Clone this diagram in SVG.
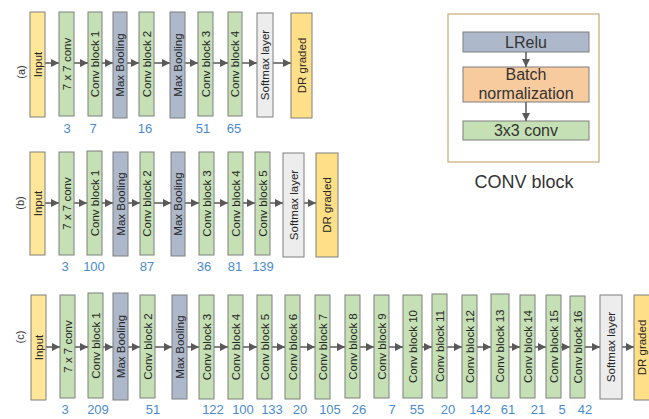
<svg xmlns="http://www.w3.org/2000/svg" width="649" height="419" viewBox="0 0 649 419">
<style>
.b{stroke:#7f7f7f;stroke-width:1}
.inp{fill:#ffe699}
.dr{fill:#ffdf88}
.cv{fill:#c5e0b4}
.mp{fill:#adb9ca}
.sm{fill:#ededed}
.t{font-family:"Liberation Sans",Arial,sans-serif;font-size:11.5px;fill:#262626;text-anchor:middle;dominant-baseline:central}
.n{font-family:"Liberation Sans",Arial,sans-serif;font-size:13px;fill:#4a8bd0;text-anchor:middle}
.r{font-family:"Liberation Sans",Arial,sans-serif;font-size:11px;fill:#333;text-anchor:middle;dominant-baseline:central}
.k{font-family:"Liberation Sans",Arial,sans-serif;font-size:16px;fill:#333;text-anchor:middle;dominant-baseline:central}
.c line{stroke:#595959;stroke-width:1.5;marker-end:url(#ah)}
</style>
<defs>
<marker id="ah" viewBox="0 0 8 8" refX="8" refY="4" markerWidth="8" markerHeight="8" markerUnits="userSpaceOnUse" orient="auto"><path d="M0,0 L8,4 L0,8 z" fill="#595959"/></marker>
</defs>
<rect width="649" height="419" fill="#fff"/>

<!-- CONV block legend -->
<g id="conv-block">
<rect x="448" y="14" width="151" height="148" fill="#fff" stroke="#c9a67e" stroke-width="1.2"/>
<g id="lrelu"><rect class="b mp" x="463" y="32" width="126" height="20"/><text class="k" x="526" y="42">LRelu</text></g>
<g id="batchnorm"><rect class="b" fill="#f8cb9f" x="463" y="67" width="126" height="35"/><text class="k" x="526" y="74">Batch</text><text class="k" x="526" y="93">normalization</text></g>
<g id="conv3"><rect class="b cv" x="463" y="121" width="126" height="19"/><text class="k" x="526" y="130.5">3x3 conv</text></g>
<text class="k" style="font-size:18px" x="524" y="182">CONV block</text>
</g>

<!-- connectors -->
<g id="connectors" class="c">
<!-- row a -->
<line x1="45" y1="63" x2="59" y2="63"/>
<line x1="74" y1="63" x2="88" y2="63"/>
<line x1="102" y1="63" x2="113" y2="63"/>
<line x1="127" y1="63" x2="139" y2="63"/>
<line x1="154" y1="63" x2="170" y2="63"/>
<line x1="185" y1="63" x2="198" y2="63"/>
<line x1="213" y1="63" x2="228" y2="63"/>
<line x1="242" y1="63" x2="257" y2="63"/>
<line x1="273" y1="63" x2="291" y2="63"/>
<!-- row b -->
<line x1="45" y1="203" x2="59" y2="203"/>
<line x1="74" y1="203" x2="87" y2="203"/>
<line x1="102" y1="203" x2="113" y2="203"/>
<line x1="128" y1="203" x2="140" y2="203"/>
<line x1="154" y1="203" x2="171" y2="203"/>
<line x1="185" y1="203" x2="199" y2="203"/>
<line x1="214" y1="203" x2="228" y2="203"/>
<line x1="243" y1="203" x2="255" y2="203"/>
<line x1="270" y1="203" x2="283" y2="203"/>
<line x1="304" y1="203" x2="316" y2="203"/>
<!-- row c -->
<line x1="46" y1="347" x2="60" y2="347"/>
<line x1="75" y1="347" x2="88" y2="347"/>
<line x1="103" y1="347" x2="113" y2="347"/>
<line x1="128" y1="347" x2="140" y2="347"/>
<line x1="155" y1="347" x2="172" y2="347"/>
<line x1="187" y1="347" x2="199" y2="347"/>
<line x1="214" y1="347" x2="228" y2="347"/>
<line x1="243" y1="347" x2="257" y2="347"/>
<line x1="272" y1="347" x2="285" y2="347"/>
<line x1="300" y1="347" x2="315" y2="347"/>
<line x1="330" y1="347" x2="345" y2="347"/>
<line x1="360" y1="347" x2="374" y2="347"/>
<line x1="389" y1="347" x2="403" y2="347"/>
<line x1="422" y1="347" x2="432" y2="347"/>
<line x1="447" y1="347" x2="462" y2="347"/>
<line x1="477" y1="347" x2="491" y2="347"/>
<line x1="509" y1="347" x2="520" y2="347"/>
<line x1="535" y1="347" x2="546" y2="347"/>
<line x1="561" y1="347" x2="570" y2="347"/>
<line x1="585" y1="347" x2="600" y2="347"/>
<line x1="622" y1="347" x2="634" y2="347"/>
<!-- conv block -->
<line x1="526" y1="52" x2="526" y2="67"/>
<line x1="526" y1="102" x2="526" y2="121"/>
</g>

<!-- row labels -->
<text class="r" transform="translate(21,72) rotate(-90)">(a)</text>
<text class="r" transform="translate(20,203) rotate(-90)">(b)</text>
<text class="r" transform="translate(20,337) rotate(-90)">(c)</text>

<!-- row a nodes -->
<g id="a-input"><rect class="b inp" x="30" y="12" width="15" height="105"/><text class="t" transform="translate(37.5,64.5) rotate(-90)">Input</text></g>
<g id="a-conv7"><rect class="b cv" x="59" y="12" width="15" height="104"/><text class="t" transform="translate(66.5,64) rotate(-90)">7 x 7 conv</text></g>
<g id="a-cb1"><rect class="b cv" x="88" y="12" width="14" height="104"/><text class="t" transform="translate(95,64) rotate(-90)">Conv block 1</text></g>
<g id="a-mp1"><rect class="b mp" x="113" y="12" width="14" height="106"/><text class="t" transform="translate(120,65) rotate(-90)">Max Booling</text></g>
<g id="a-cb2"><rect class="b cv" x="139" y="12" width="15" height="104"/><text class="t" transform="translate(146.5,64) rotate(-90)">Conv block 2</text></g>
<g id="a-mp2"><rect class="b mp" x="170" y="12" width="15" height="106"/><text class="t" transform="translate(177.5,65) rotate(-90)">Max Booling</text></g>
<g id="a-cb3"><rect class="b cv" x="198" y="12" width="15" height="104"/><text class="t" transform="translate(205.5,64) rotate(-90)">Conv block 3</text></g>
<g id="a-cb4"><rect class="b cv" x="228" y="12" width="14" height="104"/><text class="t" transform="translate(235,64) rotate(-90)">Conv block 4</text></g>
<g id="a-softmax"><rect class="b sm" x="257" y="13" width="16" height="104"/><text class="t" transform="translate(265,65) rotate(-90)">Softmax layer</text></g>
<g id="a-dr"><rect class="b dr" x="291" y="13" width="21" height="105"/><text class="t" transform="translate(301.5,65.5) rotate(-90)">DR graded</text></g>
<text class="n" x="67" y="133">3</text>
<text class="n" x="93" y="133">7</text>
<text class="n" x="145" y="133">16</text>
<text class="n" x="203" y="133">51</text>
<text class="n" x="234" y="133">65</text>

<!-- row b nodes -->
<g id="b-input"><rect class="b inp" x="30" y="152" width="15" height="103"/><text class="t" transform="translate(37.5,203.5) rotate(-90)">Input</text></g>
<g id="b-conv7"><rect class="b cv" x="59" y="152" width="15" height="103"/><text class="t" transform="translate(66.5,203.5) rotate(-90)">7 x 7 conv</text></g>
<g id="b-cb1"><rect class="b cv" x="87" y="151" width="15" height="104"/><text class="t" transform="translate(94.5,203) rotate(-90)">Conv block 1</text></g>
<g id="b-mp1"><rect class="b mp" x="113" y="152" width="15" height="104"/><text class="t" transform="translate(120.5,204) rotate(-90)">Max Booling</text></g>
<g id="b-cb2"><rect class="b cv" x="140" y="152" width="14" height="103"/><text class="t" transform="translate(147,203.5) rotate(-90)">Conv block 2</text></g>
<g id="b-mp2"><rect class="b mp" x="171" y="152" width="14" height="104"/><text class="t" transform="translate(178,204) rotate(-90)">Max Booling</text></g>
<g id="b-cb3"><rect class="b cv" x="199" y="152" width="15" height="103"/><text class="t" transform="translate(206.5,203.5) rotate(-90)">Conv block 3</text></g>
<g id="b-cb4"><rect class="b cv" x="228" y="152" width="15" height="103"/><text class="t" transform="translate(235.5,203.5) rotate(-90)">Conv block 4</text></g>
<g id="b-cb5"><rect class="b cv" x="255" y="152" width="15" height="103"/><text class="t" transform="translate(262.5,203.5) rotate(-90)">Conv block 5</text></g>
<g id="b-softmax"><rect class="b sm" x="283" y="153" width="21" height="104"/><text class="t" transform="translate(293.5,205) rotate(-90)">Softmax layer</text></g>
<g id="b-dr"><rect class="b dr" x="316" y="153" width="22" height="104"/><text class="t" transform="translate(327,205) rotate(-90)">DR graded</text></g>
<text class="n" x="65" y="271">3</text>
<text class="n" x="94" y="271">100</text>
<text class="n" x="147" y="271">87</text>
<text class="n" x="204" y="271">36</text>
<text class="n" x="235" y="271">81</text>
<text class="n" x="263" y="271">139</text>

<!-- row c nodes -->
<g id="c-input"><rect class="b inp" x="31" y="295" width="15" height="105"/><text class="t" transform="translate(38.5,347.5) rotate(-90)">Input</text></g>
<g id="c-conv7"><rect class="b cv" x="60" y="295" width="15" height="103"/><text class="t" transform="translate(67.5,346.5) rotate(-90)">7 x 7 conv</text></g>
<g id="c-cb1"><rect class="b cv" x="88" y="293" width="15" height="105"/><text class="t" transform="translate(95.5,345.5) rotate(-90)">Conv block 1</text></g>
<g id="c-mp1"><rect class="b mp" x="113" y="293" width="15" height="107"/><text class="t" transform="translate(120.5,346.5) rotate(-90)">Max Booling</text></g>
<g id="c-cb2"><rect class="b cv" x="140" y="295" width="15" height="103"/><text class="t" transform="translate(147.5,346.5) rotate(-90)">Conv block 2</text></g>
<g id="c-mp2"><rect class="b mp" x="172" y="295" width="15" height="104"/><text class="t" transform="translate(179.5,347) rotate(-90)">Max Booling</text></g>
<g id="c-cb3"><rect class="b cv" x="199" y="295" width="15" height="104"/><text class="t" transform="translate(206.5,347) rotate(-90)">Conv block 3</text></g>
<g id="c-cb4"><rect class="b cv" x="228" y="295" width="15" height="104"/><text class="t" transform="translate(235.5,347) rotate(-90)">Conv block 4</text></g>
<g id="c-cb5"><rect class="b cv" x="257" y="295" width="15" height="104"/><text class="t" transform="translate(264.5,347) rotate(-90)">Conv block 5</text></g>
<g id="c-cb6"><rect class="b cv" x="285" y="295" width="15" height="104"/><text class="t" transform="translate(292.5,347) rotate(-90)">Conv block 6</text></g>
<g id="c-cb7"><rect class="b cv" x="315" y="295" width="15" height="104"/><text class="t" transform="translate(322.5,347) rotate(-90)">Conv block 7</text></g>
<g id="c-cb8"><rect class="b cv" x="345" y="295" width="15" height="103"/><text class="t" transform="translate(352.5,346.5) rotate(-90)">Conv block 8</text></g>
<g id="c-cb9"><rect class="b cv" x="374" y="295" width="15" height="103"/><text class="t" transform="translate(381.5,346.5) rotate(-90)">Conv block 9</text></g>
<g id="c-cb10"><rect class="b cv" x="403" y="295" width="19" height="103"/><text class="t" transform="translate(412.5,346.5) rotate(-90)">Conv block 10</text></g>
<g id="c-cb11"><rect class="b cv" x="432" y="294" width="15" height="104"/><text class="t" transform="translate(439.5,346) rotate(-90)">Conv block 11</text></g>
<g id="c-cb12"><rect class="b cv" x="462" y="295" width="15" height="103"/><text class="t" transform="translate(469.5,346.5) rotate(-90)">Conv block 12</text></g>
<g id="c-cb13"><rect class="b cv" x="491" y="294" width="18" height="104"/><text class="t" transform="translate(500,346) rotate(-90)">Conv block 13</text></g>
<g id="c-cb14"><rect class="b cv" x="520" y="295" width="15" height="103"/><text class="t" transform="translate(527.5,346.5) rotate(-90)">Conv block 14</text></g>
<g id="c-cb15"><rect class="b cv" x="546" y="295" width="15" height="103"/><text class="t" transform="translate(553.5,346.5) rotate(-90)">Conv block 15</text></g>
<g id="c-cb16"><rect class="b cv" x="570" y="296" width="15" height="102"/><text class="t" transform="translate(577.5,347) rotate(-90)">Conv block 16</text></g>
<g id="c-softmax"><rect class="b sm" x="600" y="295" width="22" height="104"/><text class="t" transform="translate(611,347) rotate(-90)">Softmax layer</text></g>
<g id="c-dr"><rect class="b dr" x="634" y="295" width="22" height="105"/><text class="t" transform="translate(641.5,347.5) rotate(-90)">DR graded</text></g>
<text class="n" x="65" y="414">3</text>
<text class="n" x="98" y="414">209</text>
<text class="n" x="153" y="414">51</text>
<text class="n" x="213" y="414">122</text>
<text class="n" x="243" y="414">100</text>
<text class="n" x="272" y="414">133</text>
<text class="n" x="300" y="414">20</text>
<text class="n" x="330" y="414">105</text>
<text class="n" x="359" y="414">26</text>
<text class="n" x="392" y="414">7</text>
<text class="n" x="417" y="414">55</text>
<text class="n" x="448" y="414">20</text>
<text class="n" x="480" y="414">142</text>
<text class="n" x="508" y="414">61</text>
<text class="n" x="538" y="414">21</text>
<text class="n" x="562" y="414">5</text>
<text class="n" x="585" y="414">42</text>
</svg>
